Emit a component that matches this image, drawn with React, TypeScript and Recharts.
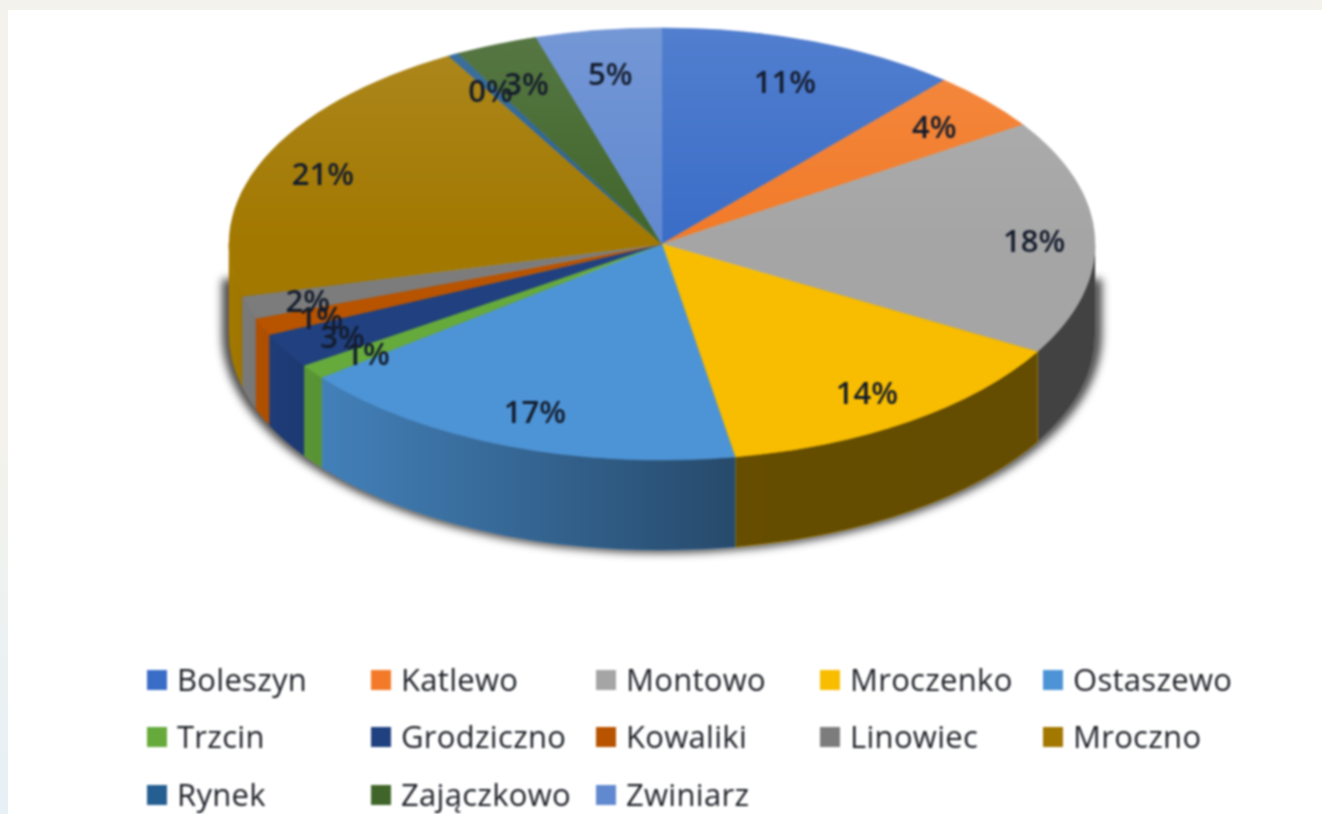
import React from 'react';
import { PieChart, Pie, Legend } from 'recharts';

const names = ['Boleszyn', 'Katlewo', 'Montowo', 'Mroczenko', 'Ostaszewo', 'Trzcin', 'Grodziczno', 'Kowaliki', 'Linowiec', 'Mroczno', 'Rynek', 'Zajączkowo', 'Zwiniarz'];
const shares = [11.3, 4.4, 17.6, 14.0, 17.1, 1.1, 2.6, 1.3, 1.7, 20.7, 0.4, 3.1, 4.7];
const colors = ['#3a6dc8', '#f27a28', '#a5a5a5', '#f8bd00', '#4d94d6', '#66aa3c', '#204080', '#b85300', '#7c7c7c', '#a27800', '#255e91', '#40652a', '#6189d0'];

const legendColumns = [147, 371, 596, 820, 1043];
const legendRows = [680, 737, 795];

const data = names.map((name, i) => ({ name, value: shares[i], fill: colors[i] }));
const shadowData = [{ name: 'shadow', value: 1, fill: '#333' }];

const TILT = 0.499;
const DEPTH = 90;
const FONT = '"Open Sans", sans-serif';
const toRad = (a: number) => (a * Math.PI) / 180;

// Pie is round in recharts, so squash each sector into an ellipse and add the side wall
const Slice3D = (props: any) => {
  const { cx, cy, outerRadius, startAngle, endAngle, fill } = props;
  const rx = outerRadius;
  const ry = outerRadius * TILT;
  const px = (a: number) => cx + rx * Math.cos(toRad(a));
  const py = (a: number) => cy - ry * Math.sin(toRad(a));
  const large = Math.abs(startAngle - endAngle) > 180 ? 1 : 0;
  const top = `M${cx},${cy} L${px(startAngle)},${py(startAngle)} A${rx},${ry} 0 ${large} 1 ${px(endAngle)},${py(endAngle)} Z`;

  const s = Math.min(startAngle, 0);
  const e = Math.max(endAngle, -180);
  const wall = s > e
    ? `M${px(s)},${py(s)} A${rx},${ry} 0 0 1 ${px(e)},${py(e)} L${px(e)},${py(e) + DEPTH} A${rx},${ry} 0 0 0 ${px(s)},${py(s) + DEPTH} Z`
    : null;

  return (
    <g>
      {wall && <path d={wall} fill={fill} stroke={fill} strokeWidth={0.5} />}
      {wall && <path d={wall} fill="url(#wallShade)" />}
      <path d={top} fill={fill} stroke={fill} strokeWidth={0.5} />
      <path d={top} fill="url(#topShine)" />
    </g>
  );
};

const WallShadow = (props: any) => {
  const { cx, cy, outerRadius } = props;
  const rx = outerRadius + 7;
  const ry = outerRadius * TILT + 3;
  const d = `M${cx - rx},${cy + 35} L${cx - rx},${cy + DEPTH} A${rx},${ry} 0 0 0 ${cx + rx},${cy + DEPTH} L${cx + rx},${cy + 35} Z`;
  return <path d={d} fill="#2b2b2b" fillOpacity={0.85} style={{ filter: 'blur(4px)' }} />;
};

const renderLabel = (props: any) => {
  const { cx, cy, midAngle, outerRadius, percent } = props;
  const cos = Math.cos(toRad(midAngle));
  const sin = Math.sin(toRad(midAngle));
  // labels sit a little further out near the flat ends of the ellipse
  const r = (0.81 + 0.05 * cos * cos) * outerRadius;
  const x = cx + r * cos;
  const y = cy - r * TILT * sin + 2;
  return (
    <text x={x} y={y} fill="#141c2c" fontFamily={FONT} fontSize={31} fontWeight={600} textAnchor="middle" dominantBaseline="central">
      {Math.round(percent * 100)}%
    </text>
  );
};

const renderLegend = ({ payload }: any) => (
  <div style={{ position: 'relative', width: 1322, height: 814 }}>
    {(payload || []).filter((item: any) => item.value !== shadowData[0].name).map((item: any, i: number) => {
      const left = legendColumns[i % 5];
      const middle = legendRows[Math.floor(i / 5)];
      return (
        <div key={item.value}>
          <div style={{ position: 'absolute', left, top: middle - 10, width: 20, height: 20, background: item.color }} />
          <div style={{ position: 'absolute', left: left + 30, top: middle - 21, height: 40, lineHeight: '40px', fontFamily: FONT, fontSize: 31, fontWeight: 500, letterSpacing: 0.3, color: '#1c1f26', whiteSpace: 'nowrap' }}>
            {item.value}
          </div>
        </div>
      );
    })}
  </div>
);

export default function App() {
  return (
    <div style={{ position: 'relative', width: 1322, height: 814, overflow: 'hidden', background: 'linear-gradient(180deg, #f4f2ec 0%, #f3f2ec 55%, #e6f0f6 100%)' }}>
      <style>{'body{margin:0}'}</style>
      <div style={{ position: 'absolute', left: 8, top: 10, right: 0, bottom: 0, background: '#fff' }} />
      <div style={{ position: 'absolute', left: 0, top: 0, filter: 'blur(0.8px)' }}>
        <PieChart width={1322} height={814} margin={{ top: 0, right: 0, bottom: 0, left: 0 }}>
          <defs>
            <linearGradient id="wallShade" gradientUnits="userSpaceOnUse" x1={229} y1={0} x2={1096} y2={0}>
              <stop offset="0" stopColor="#000" stopOpacity={0} />
              <stop offset="0.1" stopColor="#000" stopOpacity={0.13} />
              <stop offset="0.584" stopColor="#000" stopOpacity={0.5} />
              <stop offset="0.585" stopColor="#000" stopOpacity={0.59} />
              <stop offset="1" stopColor="#000" stopOpacity={0.6} />
            </linearGradient>
            <linearGradient id="topShine" gradientUnits="userSpaceOnUse" x1={0} y1={28} x2={0} y2={243}>
              <stop offset="0" stopColor="#fff" stopOpacity={0.12} />
              <stop offset="1" stopColor="#fff" stopOpacity={0} />
            </linearGradient>
          </defs>
          <Legend itemSorter={null} content={renderLegend} wrapperStyle={{ position: 'absolute', left: 0, top: 0, width: 1322, height: 814 }} />
          <Pie data={shadowData} dataKey="value" cx={662} cy={244} outerRadius={433} startAngle={90} endAngle={-270} legendType="none" shape={WallShadow} isAnimationActive={false} />
          <Pie data={data} dataKey="value" nameKey="name" cx={662} cy={244} outerRadius={433} startAngle={90} endAngle={-270} shape={Slice3D} label={renderLabel} labelLine={false} isAnimationActive={false} />
        </PieChart>
      </div>
    </div>
  );
}
